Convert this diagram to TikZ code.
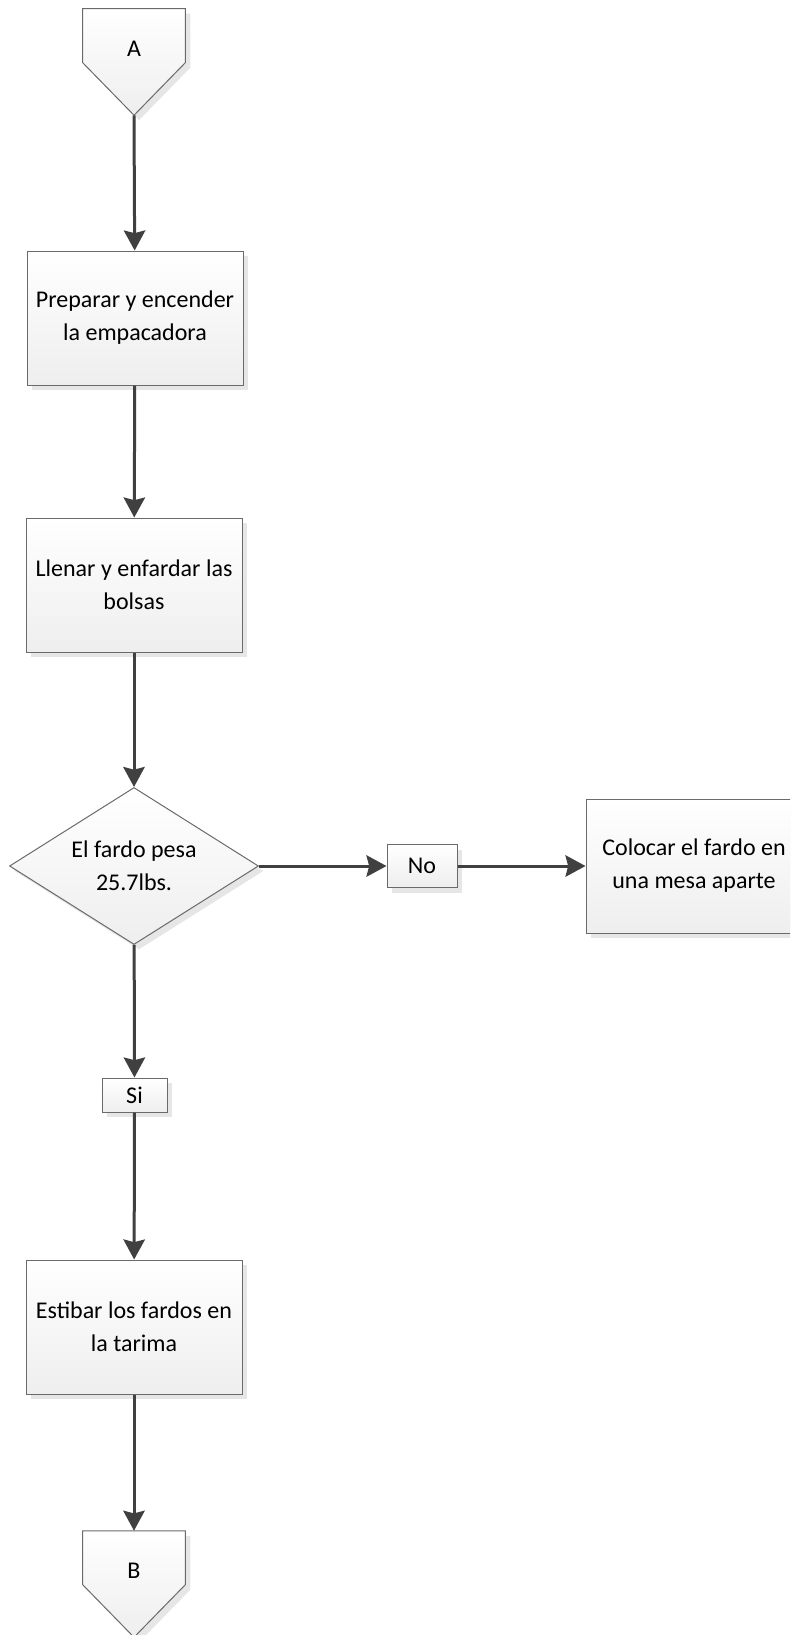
\documentclass[tikz,border=0pt]{standalone}
\usepackage{fontspec}
\setmainfont{Carlito}
\usepackage{tikz}
\usetikzlibrary{arrows.meta,shapes.geometric,shadows,backgrounds}
\definecolor{LineGray}{HTML}{404040}
\definecolor{EdgeGray}{HTML}{6A6A6A}
\definecolor{ShadeGray}{HTML}{EEEEEE}
\definecolor{ShadowGray}{HTML}{E6E6E6}

\begin{document}
\begin{tikzpicture}[
  x=0.75pt,y=0.75pt,
  every node/.style={font=\fontsize{18pt}{24.75pt}\selectfont,align=center},
  tinted/.style={draw=EdgeGray,line width=0.75pt,top color=white,bottom color=ShadeGray,drop shadow={shadow xshift=3.75pt,shadow yshift=-3.75pt,fill=ShadowGray,opacity=1}},
  stepbox/.style={tinted,rectangle,minimum width=162pt,minimum height=100.5pt,inner sep=0pt},
  decision/.style={tinted,diamond,minimum width=186.75pt,minimum height=117.75pt,aspect=1.586,inner sep=0pt},
  answer/.style={tinted,rectangle,inner sep=0pt},
  offpage/.style={rectangle,minimum width=76.5pt,minimum height=60pt,inner sep=0pt},
  arr/.style={-{Stealth[length=15pt,width=16pt,inset=2pt]},line width=2.25pt,draw=LineGray}
]
\useasboundingbox (0,0) rectangle (790,-1635);
\clip (0,0) rectangle (790,-1635);
\node[offpage] (A) at (134,-49) {A};
\coordinate (Atip) at ([yshift=-19.5pt]A.south);
\node[stepbox] (prep) at (135,-318) {Preparar y encender\\la empacadora};
\node[stepbox] (llenar) at (134,-585) {Llenar y enfardar las\\bolsas};
\node[decision] (dec) at (134,-866) {El fardo pesa\\25.7lbs.};
\node[answer,minimum width=52.5pt,minimum height=32.25pt] (no) at (422,-866) {No};
\node[stepbox] (aparte) at (694,-866) {Colocar el fardo en\\una mesa aparte};
\node[answer,minimum width=48.75pt,minimum height=25.5pt] (si) at (134.5,-1095) {Si};
\node[stepbox] (estibar) at (134,-1327) {Estibar los fardos en\\la tarima};
\node[offpage] (B) at (134,-1571) {B};
\coordinate (Btip) at ([yshift=-19.5pt]B.south);
\begin{scope}[on background layer]
\path[tinted] (A.north west) -- (A.north east) -- ([yshift=-40.5pt]A.north east) -- (Atip) -- ([yshift=-40.5pt]A.north west) -- cycle;
\path[tinted] (B.north west) -- (B.north east) -- ([yshift=-40.5pt]B.north east) -- (Btip) -- ([yshift=-40.5pt]B.north west) -- cycle;
\end{scope}
\draw[arr] (Atip) -- (prep);
\draw[arr] (prep) -- (llenar);
\draw[arr] (llenar) -- (dec);
\draw[arr] (dec) -- (no);
\draw[arr] (no) -- (aparte);
\draw[arr] (dec) -- (si);
\draw[arr] (si) -- (estibar);
\draw[arr] (estibar) -- (B);
\end{tikzpicture}
\end{document}
